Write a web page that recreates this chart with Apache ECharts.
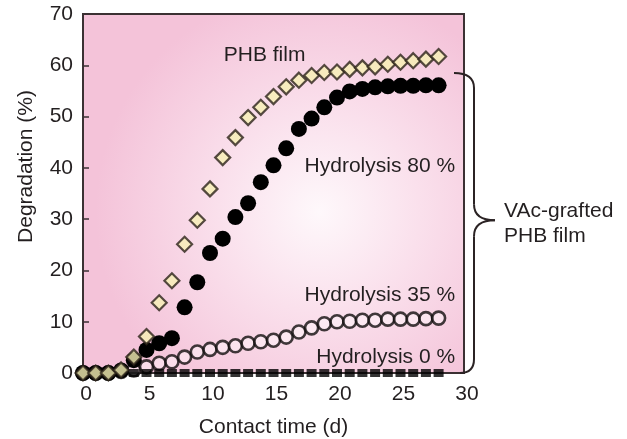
<!DOCTYPE html>
<html>
<head>
<meta charset="utf-8">
<script src="https://cdn.jsdelivr.net/npm/echarts@6/dist/echarts.min.js"></script>
<style>
html,body{margin:0;padding:0;background:#fff;}
#c{width:627px;height:439px;}
</style>
</head>
<body>
<div id="c"></div>
<script>
var days = [0,1,2,3,4,5,6,7,8,9,10,11,12,13,14,15,16,17,18,19,20,21,22,23,24,25,26,27,28];
var phbFilm = [0,0,0,0.6,3.1,7.1,13.7,18.0,25.1,29.8,35.9,42.0,45.9,49.8,51.8,53.9,55.8,57.1,58.0,58.6,58.7,59.2,59.5,59.7,60.2,60.6,60.9,61.2,61.7];
var hyd80 = [0,0,0,0.5,2.5,4.5,5.8,6.8,12.8,17.7,23.4,26.2,30.4,33.1,37.2,40.5,43.8,47.6,49.6,51.8,53.7,54.9,55.4,55.7,55.9,56.0,56.0,56.1,56.1];
var hyd35 = [0,0,0,0.3,0.6,1.2,1.9,2.2,3.1,4.1,4.6,5.0,5.3,5.8,6.1,6.4,7.0,8.0,8.8,9.6,10.0,10.1,10.3,10.3,10.5,10.5,10.5,10.6,10.7];
var hyd0 = [0,0,0,0,0,0,0,0,0,0,0,0,0,0,0,0,0,0,0,0,0,0,0,0,0,0,0,0,0];
var xTicks = [0,5,10,15,20,25,30];
var yTicks = [0,10,20,30,40,50,60,70];

function pairs(v){ return days.map(function(d,i){ return [d, v[i]]; }); }

var FONT = '"Liberation Sans", Arial, Helvetica, sans-serif';
var TXT = '#231f20';
var chart = echarts.init(document.getElementById('c'), null, {renderer:'canvas'});

var option = {
  animation:false,
  backgroundColor:'#ffffff',
  grid:{
    left:83, right:163, top:14, bottom:66,
    outerBoundsMode:'none',
    containLabel:false,
    show:true,
    borderColor:'#3b3133', borderWidth:2,
    backgroundColor:{
      type:'radial', x:0.62, y:0.55, r:0.62,
      colorStops:[
        {offset:0, color:'#fef8fb'},
        {offset:0.45, color:'#fae0ec'},
        {offset:1, color:'#f4c3d9'}
      ]
    }
  },
  xAxis:{
    type:'value', min:0, max:30, interval:5,
    name:'Contact time (d)', nameLocation:'middle', nameGap:44,
    nameTextStyle:{fontFamily:FONT, fontSize:21, color:TXT},
    axisLine:{show:true, lineStyle:{color:'#3b3133', width:2}},
    axisTick:{show:false},
    axisLabel:{fontFamily:FONT, fontSize:21, color:TXT, margin:11, padding:[0,0,0,6],
      formatter:function(v){ return xTicks.indexOf(v) >= 0 ? String(v) : ''; }},
    splitLine:{show:false}
  },
  yAxis:{
    type:'value', min:0, max:70, interval:10,
    name:'Degradation (%)', nameLocation:'middle', nameGap:46,
    nameTextStyle:{fontFamily:FONT, fontSize:21, color:TXT, padding:[0,0,0,54]},
    axisLine:{show:true, lineStyle:{color:'#3b3133', width:2}},
    axisTick:{show:true, inside:true, length:6, lineStyle:{color:'#3b3133', width:1.5}},
    axisLabel:{fontFamily:FONT, fontSize:21, color:TXT, margin:10,
      formatter:function(v){ return yTicks.indexOf(v) >= 0 ? String(v) : ''; }},
    splitLine:{show:false}
  },
  series:[
    {
      name:'Hydrolysis 35 %', type:'scatter', data:pairs(hyd35), clip:false,
      symbol:'circle', symbolSize:13, z:2,
      itemStyle:{color:'rgba(255,246,250,0.6)', borderColor:'#100c0c', borderWidth:2.6}
    },
    {
      name:'Hydrolysis 0 %', type:'scatter', data:pairs(hyd0), clip:false,
      symbol:'rect', symbolSize:[10,8], z:3,
      itemStyle:{color:'#000000'}
    },
    {
      name:'Hydrolysis 80 %', type:'scatter', data:pairs(hyd80), clip:false,
      symbol:'circle', symbolSize:16, z:4,
      itemStyle:{color:'#000000', opacity:1}
    },
    {
      name:'PHB film', type:'scatter', data:pairs(phbFilm), clip:false,
      symbol:'diamond', symbolSize:15, z:5,
      itemStyle:{color:'#f6f0b4', borderColor:'#2a2218', borderWidth:2.2}
    }
  ]
};
chart.setOption(option);

function px(x,y){ return chart.convertToPixel({gridIndex:0},[x,y]); }
var pPHB = px(14.3, 62.0);
var p80 = px(29.3, 40.3);
var p35 = px(29.3, 15.2);
var p0 = px(29.3, 3.0);
var right = px(30, 0)[0];
var yTop = px(0, 58.5)[1];
var yBot = px(0, 0)[1];
var yMid = px(0, 29.8)[1];
var bx = right + 10;
var tipX = bx + 21;
var ST = {stroke:'#2b2324', lineWidth:2, fill:null};

chart.setOption({
  graphic:[
    {type:'text', x:pPHB[0], y:pPHB[1], style:{text:'PHB film', font:'21px '+FONT, fill:TXT, textAlign:'center', textVerticalAlign:'middle'}, z:10},
    {type:'text', x:p80[0], y:p80[1], style:{text:'Hydrolysis 80 %', font:'21px '+FONT, fill:TXT, textAlign:'right', textVerticalAlign:'middle'}, z:10},
    {type:'text', x:p35[0], y:p35[1], style:{text:'Hydrolysis 35 %', font:'21px '+FONT, fill:TXT, textAlign:'right', textVerticalAlign:'middle'}, z:10},
    {type:'text', x:p0[0], y:p0[1], style:{text:'Hydrolysis 0 %', font:'21px '+FONT, fill:TXT, textAlign:'right', textVerticalAlign:'middle'}, z:10},
    {type:'text', x:tipX+9, y:yMid-9, style:{text:'VAc-grafted', font:'21px '+FONT, fill:TXT, textAlign:'left', textVerticalAlign:'middle'}, z:10},
    {type:'text', x:tipX+9, y:yMid+16, style:{text:'PHB film', font:'21px '+FONT, fill:TXT, textAlign:'left', textVerticalAlign:'middle'}, z:10},
    {type:'bezierCurve', shape:{x1:bx-20, y1:yTop, cpx1:bx, cpy1:yTop, x2:bx, y2:yTop+15}, style:ST, z:10},
    {type:'line', shape:{x1:bx, y1:yTop+15, x2:bx, y2:yMid-16}, style:ST, z:10},
    {type:'bezierCurve', shape:{x1:bx, y1:yMid-16, cpx1:bx, cpy1:yMid, x2:tipX, y2:yMid}, style:ST, z:10},
    {type:'bezierCurve', shape:{x1:tipX, y1:yMid, cpx1:bx, cpy1:yMid, x2:bx, y2:yMid+16}, style:ST, z:10},
    {type:'line', shape:{x1:bx, y1:yMid+16, x2:bx, y2:yBot-14}, style:ST, z:10},
    {type:'bezierCurve', shape:{x1:bx, y1:yBot-14, cpx1:bx, cpy1:yBot, x2:bx-14, y2:yBot}, style:ST, z:10}
  ]
});
</script>
</body>
</html>
